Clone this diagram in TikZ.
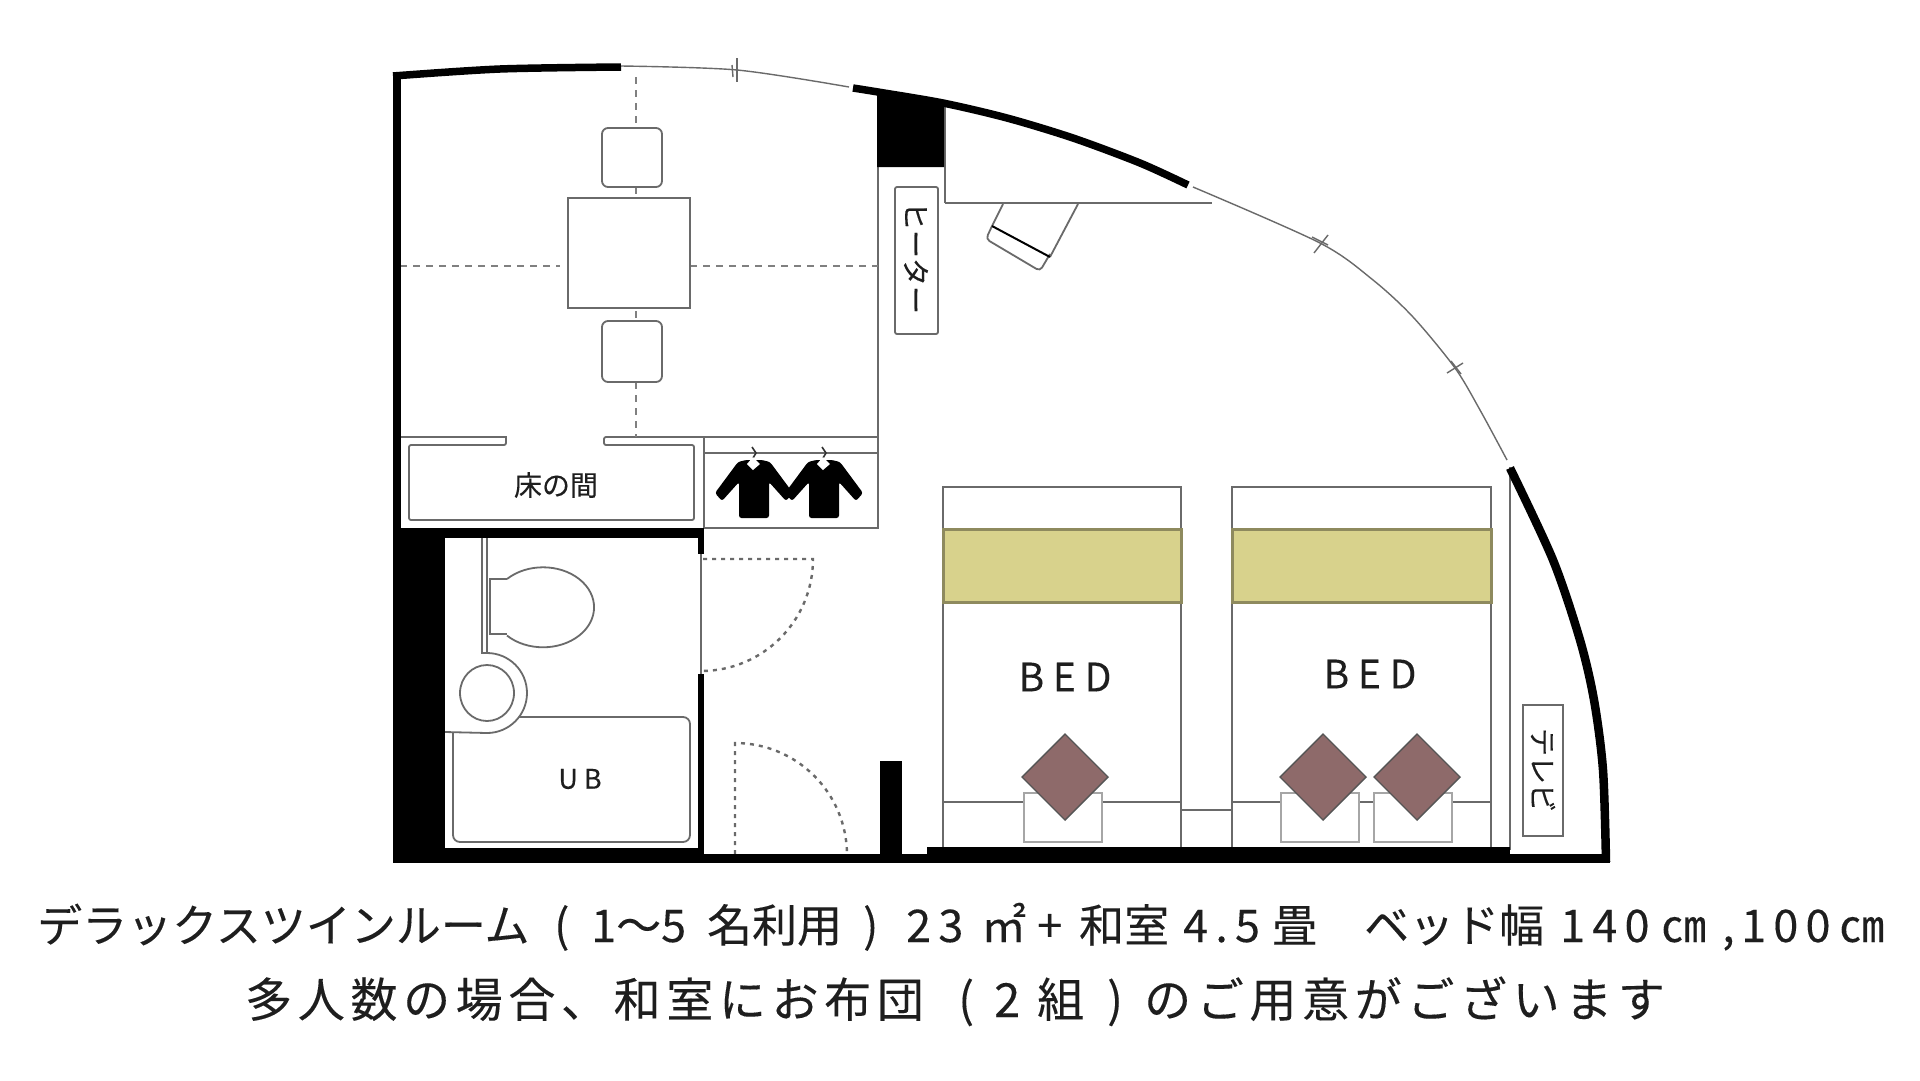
\documentclass[tikz,border=0pt]{standalone}
\usepackage{fontspec}
\newfontfamily\jp[FakeBold=0.2]{Noto Sans CJK JP}
\newfontfamily\jpwide[FakeBold=0.2,LetterSpace=12]{Noto Sans CJK JP}
\newfontfamily\jpnum[FakeBold=0.2,LetterSpace=16]{Noto Sans CJK JP}
\newcommand{\segm}[2]{\makebox[#1pt][l]{#2}}
\definecolor{lineGrey}{HTML}{6A6A6A}
\definecolor{bandYellow}{HTML}{D8D28C}
\definecolor{bandEdge}{HTML}{8E8A5E}
\definecolor{cushion}{HTML}{8E6A6A}
\definecolor{textInk}{HTML}{1E1E1E}
\tikzset{
	wall/.style={fill=black, draw=none},
	wallarc/.style={black, line width=7.5pt},
	thin line/.style={draw=lineGrey, line width=1.8pt},
	glass line/.style={draw=lineGrey, line width=1.4pt},
	hidden line/.style={draw=lineGrey!85, line width=2.2pt, dash pattern=on 7pt off 6pt},
	door line/.style={draw=lineGrey, line width=2.4pt, dash pattern=on 4pt off 5pt},
	label/.style={inner sep=0pt, text=textInk, font=\jp\fontsize{28}{30}\selectfont}
}
\begin{document}
\begin{tikzpicture}[x=1pt, y=-1pt]
	\useasboundingbox (0,0) rectangle (1920,1080);
	\fill[white] (0,0) rectangle (1920,1080);
	% window line along the curved side
	\draw[glass line] plot[smooth] coordinates {(621,66) (737,70) (849,87)};
	\draw[glass line] plot[smooth] coordinates {(1193,187) (1320,243) (1373,280) (1413,317) (1455,368) (1480,410) (1507,460)};
	\draw[glass line] (737,58) -- (737,82);
	\draw[glass line] (732,65) -- (733,77);
	\draw[glass line] (1314,253) -- (1328,235);
	\draw[glass line] (1312,237) -- (1328,245);
	\draw[glass line] (1447,373) -- (1463,363);
	\draw[glass line] (1451,361) -- (1461,374);
	% partitions
	\draw[thin line] (878,167) -- (878,528) -- (704,528) -- (704,437);
	\draw[thin line] (400,437) -- (506,437) [rounded corners=2pt] -- (506,445) -- (409,445) -- (409,520) -- (694,520) -- (694,445) -- (604,445) -- (604,437) -- (878,437);
	\draw[thin line] (704,453) -- (878,453);
	\draw[thin line] (945,100) -- (945,203);
	\draw[draw=lineGrey, line width=2.8pt] (945,203) -- (1212,203);
	\draw[thin line] (1510,467) -- (1510,850);
	\draw[glass line] (701,553) -- (701,676);
	% table and chairs
	\draw[hidden line] (636,77) -- (636,128);
	\draw[hidden line] (636,187) -- (636,198);
	\draw[hidden line] (636,311) -- (636,321);
	\draw[hidden line] (636,382) -- (636,437);
	\draw[hidden line] (400,266) -- (560,266);
	\draw[hidden line] (690,266) -- (878,266);
	\draw[thin line] (568,198) rectangle (690,308);
	\draw[thin line, rounded corners=6pt] (602,128) rectangle (662,187);
	\draw[thin line, rounded corners=6pt] (602,321) rectangle (662,382);
	% desk chair
	\draw[thin line] (1003,204) -- (992,226);
	\draw[thin line] (1078,204) -- (1050,257);
	\draw[thin line, rounded corners=4pt] (992,226) -- (986,239) -- (1040,271) -- (1050,254);
	\draw[black, line width=2pt] (992,226) -- (1050,257);
	% hanging clothes
	\foreach \dx in {0,70} {
		\begin{scope}[xshift=\dx pt]
			\fill[black, rounded corners=2.5pt] (746,460) -- (738,462) -- (715,493) -- (722,501) -- (739,482) -- (739,518) -- (769,518) -- (769,482) -- (786,501) -- (793,493) -- (770,462) -- (762,460) -- cycle;
			\draw[black!80, line width=1.6pt] (753,458) -- (756,453) -- (752,447);
			\fill[white] (753,457) -- (760,464) -- (753,470) -- (747,464) -- cycle;
		\end{scope}
	}
	% bathroom
	\draw[thin line] (482,538) -- (482,653) -- (487,653) arc[start angle=-90, end angle=90, radius=40] -- (445,732);
	\draw[thin line] (487,538) -- (487,653);
	\draw[thin line] (487,693) circle[x radius=27, y radius=28];
	\draw[thin line] (507,579) -- (490,579) -- (490,634) -- (507,634);
	\draw[thin line] (507,579) arc[start angle=-135, end angle=135, x radius=51, y radius=40];
	\draw[thin line, rounded corners=7pt] (519,717) -- (690,717) -- (690,842) -- (453,842) -- (453,732);
	\draw[door line] (703,559) -- (813,559) arc[start angle=0, end angle=90, radius=112];
	\draw[door line] (735,854) -- (735,743) arc[start angle=-90, end angle=0, radius=112];
	% beds
	\foreach \xa/\xb in {943/1181,1232/1491} {
		\draw[thin line] (\xa,487) rectangle (\xb,850);
		\draw[bandEdge, line width=3pt, fill=bandYellow] (\xa,529) rectangle (\xb,602);
		\draw[thin line] (\xa,802) -- (\xb,802);
	}
	\draw[thin line] (1181,810) -- (1232,810);
	\foreach \xa in {1024,1281,1374} {
		\draw[draw=lineGrey!60, line width=1.8pt, fill=white] (\xa,793) rectangle ++(78,49);
	}
	\foreach \cx in {1065,1323,1417} {
		\draw[draw=lineGrey!80!black, line width=1.4pt, fill=cushion] (\cx,734) -- ++(43,43) -- ++(-43,43) -- ++(-43,-43) -- cycle;
	}
	% boxes with upright labels turned
	\draw[thin line, rounded corners=2pt] (895,187) rectangle (938,334);
	\draw[thin line] (1523,705) rectangle (1563,836);
	% walls
	\fill[wall] (393,72) rectangle (401,528);
	\fill[wall] (393,528) rectangle (704,538);
	\fill[wall] (393,528) rectangle (445,863);
	\fill[wall] (393,848) rectangle (704,863);
	\fill[wall] (698,538) rectangle (704,554);
	\fill[wall] (698,674) rectangle (704,863);
	\fill[wall] (704,854) rectangle (1610,863);
	\fill[wall] (927,847) rectangle (1510,863);
	\fill[wall] (880,761) rectangle (902,863);
	\fill[wall] (877,92) -- (944,103) -- (944,167) -- (877,167) -- cycle;
	\draw[wallarc] plot[smooth] coordinates {(393,76) (500,69) (621,67)};
	\draw[wallarc] plot[smooth] coordinates {(853,88) (878,92) (943,103) (1007,118) (1073,138) (1140,163) (1188,185)};
	\draw[wallarc, line width=8.5pt] plot[smooth] coordinates {(1510,468) (1553,560) (1580,640) (1594,700) (1603,770) (1606,862)};
	% labels
	\node[label] (heaterlabel) at (916,258) [rotate=-90] {ヒーター};
	\node[label] (tvlabel) at (1543,770) [rotate=-90] {テレビ};
	\node[label] (alcovelabel) at (556,485) {床の間};
	\node[label, font=\jp\fontsize{27}{30}\selectfont] (tublabel) at (580,779) {U B};
	\node[label, font=\jp\fontsize{39}{40}\selectfont] (bedlabela) at (1065,677) {B E D};
	\node[label, font=\jp\fontsize{39}{40}\selectfont] (bedlabelb) at (1370,674) {B E D};
	% caption, two lines
	\node[label, anchor=base west, font=\jp\fontsize{45}{50}\selectfont] (captiona) at (37,942)
		{\segm{517}{デラックスツインルーム}\segm{37}{(}\segm{116}{1〜5}\segm{156}{名利用}\segm{43}{)}\segm{75}{\jpnum 23}\segm{56}{㎡}\segm{42}{+}\segm{104}{和室}\segm{89}{\jpnum 4.5}\segm{92}{畳}\segm{196}{ベッド幅}\segm{101}{\jpnum 140}\segm{61}{㎝}\segm{19}{,}\segm{98}{\jpnum 100}\segm{45}{㎝}};
	\node[label, anchor=base west, font=\jp\fontsize{47}{50}\selectfont] (captionb) at (245,1017)
		{\segm{713}{\jpwide 多人数の場合、和室にお布団}\segm{36}{(}\segm{43}{2}\segm{70}{組}\segm{37}{)}\segm{530}{\jpwide のご用意がございます}};
\end{tikzpicture}
\end{document}
